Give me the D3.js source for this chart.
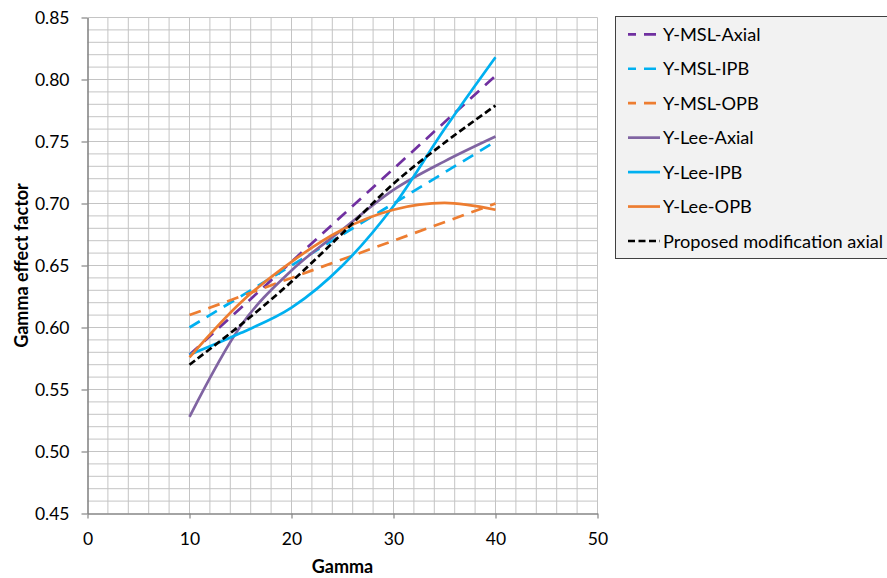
<!DOCTYPE html>
<html>
<head>
<meta charset="utf-8">
<script src="https://cdn.jsdelivr.net/npm/d3@7"></script>
<style>
  html, body { margin: 0; padding: 0; background: #ffffff; }
  svg { display: block; }
  text { font-family: Lato, "Open Sans", sans-serif; fill: #000; }
</style>
</head>
<body>
<svg id="chart" width="887" height="578"></svg>
<script>
// Gamma values and factor series
const gammaMSL = [10, 20, 30, 40];
const mslAxial = [0.578, 0.653, 0.728, 0.803];
const mslIPB   = [0.600, 0.650, 0.700, 0.750];
const mslOPB   = [0.610, 0.640, 0.670, 0.700];

const gammaLee = [10, 15, 20, 25, 30, 35, 40];
const leeAxial = [0.528, 0.601, 0.646, 0.679, 0.711, 0.734, 0.754];
const leeIPB   = [0.578, 0.5955, 0.616, 0.650, 0.698, 0.760, 0.818];
const leeOPB   = [0.576, 0.620, 0.653, 0.679, 0.695, 0.7005, 0.695];

const gammaProp = [10, 15, 20, 25, 30, 35, 40];
const propAxial = [0.570, 0.602, 0.637, 0.676, 0.716, 0.749, 0.779];

const seriesNames = ["Y-MSL-Axial", "Y-MSL-IPB", "Y-MSL-OPB", "Y-Lee-Axial", "Y-Lee-IPB", "Y-Lee-OPB", "Proposed modification axial"];
const xTicks = [0, 10, 20, 30, 40, 50];
const yTicks = [0.45, 0.50, 0.55, 0.60, 0.65, 0.70, 0.75, 0.80, 0.85];

// smoothed lines through the points, uniform Catmull-Rom style
const smooth = d3.curveCardinal.tension(0);

const series = [
  { name: seriesNames[0], xs: gammaMSL,  ys: mslAxial,  color: "#7030A0", dash: "12,8",  curve: d3.curveLinear },
  { name: seriesNames[1], xs: gammaMSL,  ys: mslIPB,    color: "#00B0F0", dash: "12,8",  curve: d3.curveLinear },
  { name: seriesNames[2], xs: gammaMSL,  ys: mslOPB,    color: "#ED7D31", dash: "12,8",  curve: d3.curveLinear },
  { name: seriesNames[3], xs: gammaLee,  ys: leeAxial,  color: "#8064A2", dash: null,    curve: smooth },
  { name: seriesNames[4], xs: gammaLee,  ys: leeIPB,    color: "#00B0F0", dash: null,    curve: smooth },
  { name: seriesNames[5], xs: gammaLee,  ys: leeOPB,    color: "#ED7D31", dash: null,    curve: smooth },
  { name: seriesNames[6], xs: gammaProp, ys: propAxial, color: "#000000", dash: "7,3.5", curve: smooth }
];

const svg = d3.select("#chart");

const x = d3.scaleLinear().domain([0, 50]).range([87.5, 597.5]);
const y = d3.scaleLinear().domain([0.45, 0.85]).range([513.5, 17.5]);

// grid
const grid = svg.append("g").attr("class", "grid");
const hLines = d3.range(46, 86).map(v => v / 100);
grid.selectAll("line.h").data(hLines).join("line")
  .attr("class", "h")
  .attr("x1", x(0)).attr("x2", x(50))
  .attr("y1", d => y(d)).attr("y2", d => y(d))
  .attr("stroke", "#c4c4c4").attr("stroke-width", 1);
const vLines = d3.range(2, 51, 2);
grid.selectAll("line.v").data(vLines).join("line")
  .attr("class", "v")
  .attr("y1", y(0.45)).attr("y2", y(0.85))
  .attr("x1", d => x(d)).attr("x2", d => x(d))
  .attr("stroke", "#c4c4c4").attr("stroke-width", 1);

// axes
const yAxis = d3.axisLeft(y).tickValues(yTicks).tickFormat(d3.format(".2f"))
  .tickSizeInner(6).tickSizeOuter(0).tickPadding(12);
const gy = svg.append("g").attr("transform", `translate(${x(0)},0)`).call(yAxis);
const xAxis = d3.axisBottom(x).tickValues(xTicks).tickFormat(d3.format("d"))
  .tickSizeInner(5).tickSizeOuter(0).tickPadding(14);
const gx = svg.append("g").attr("transform", `translate(0,${y(0.45)})`).call(xAxis);

[gx, gy].forEach(g => {
  g.select(".domain").attr("stroke", "#868686").attr("stroke-width", 1.6);
  g.selectAll(".tick line").attr("stroke", "#868686").attr("stroke-width", 1.2);
  g.selectAll(".tick text").attr("font-size", "17.5px").attr("font-family", "Lato, sans-serif").attr("fill", "#000");
});

// series lines
const plot = svg.append("g");
series.forEach(s => {
  const pts = s.xs.map((g, i) => [g, s.ys[i]]);
  const line = d3.line().x(d => x(d[0])).y(d => y(d[1])).curve(s.curve);
  plot.append("path")
    .datum(pts)
    .attr("d", line)
    .attr("fill", "none")
    .attr("stroke", s.color)
    .attr("stroke-width", 2.7)
    .attr("stroke-dasharray", s.dash)
    .attr("stroke-linecap", "butt");
});

// axis titles
svg.append("text")
  .attr("x", (x(0) + x(50)) / 2).attr("y", 573)
  .attr("text-anchor", "middle")
  .attr("font-size", "18px").attr("font-weight", "bold")
  .text("Gamma");
svg.append("text")
  .attr("transform", `translate(28,${(y(0.45) + y(0.85)) / 2}) rotate(-90)`)
  .attr("text-anchor", "middle")
  .attr("font-size", "18px").attr("font-weight", "bold")
  .text("Gamma effect factor");

// legend
const legend = svg.append("g");
legend.append("rect")
  .attr("x", 615.5).attr("y", 16.5).attr("width", 280).attr("height", 242)
  .attr("fill", "#f2f2f2").attr("stroke", "#404040").attr("stroke-width", 1);
series.forEach((s, i) => {
  const cy = 34.3 + i * 34.45;
  legend.append("line")
    .attr("x1", 628).attr("x2", 660).attr("y1", cy).attr("y2", cy)
    .attr("stroke", s.color).attr("stroke-width", 2.7)
    .attr("stroke-dasharray", s.dash)
    .attr("stroke-dashoffset", s.dash === "12,8" ? 4 : 0);
  legend.append("text")
    .attr("x", 663).attr("y", cy).attr("dy", "0.36em")
    .attr("font-size", "18.2px")
    .text(s.name);
});
</script>
</body>
</html>
